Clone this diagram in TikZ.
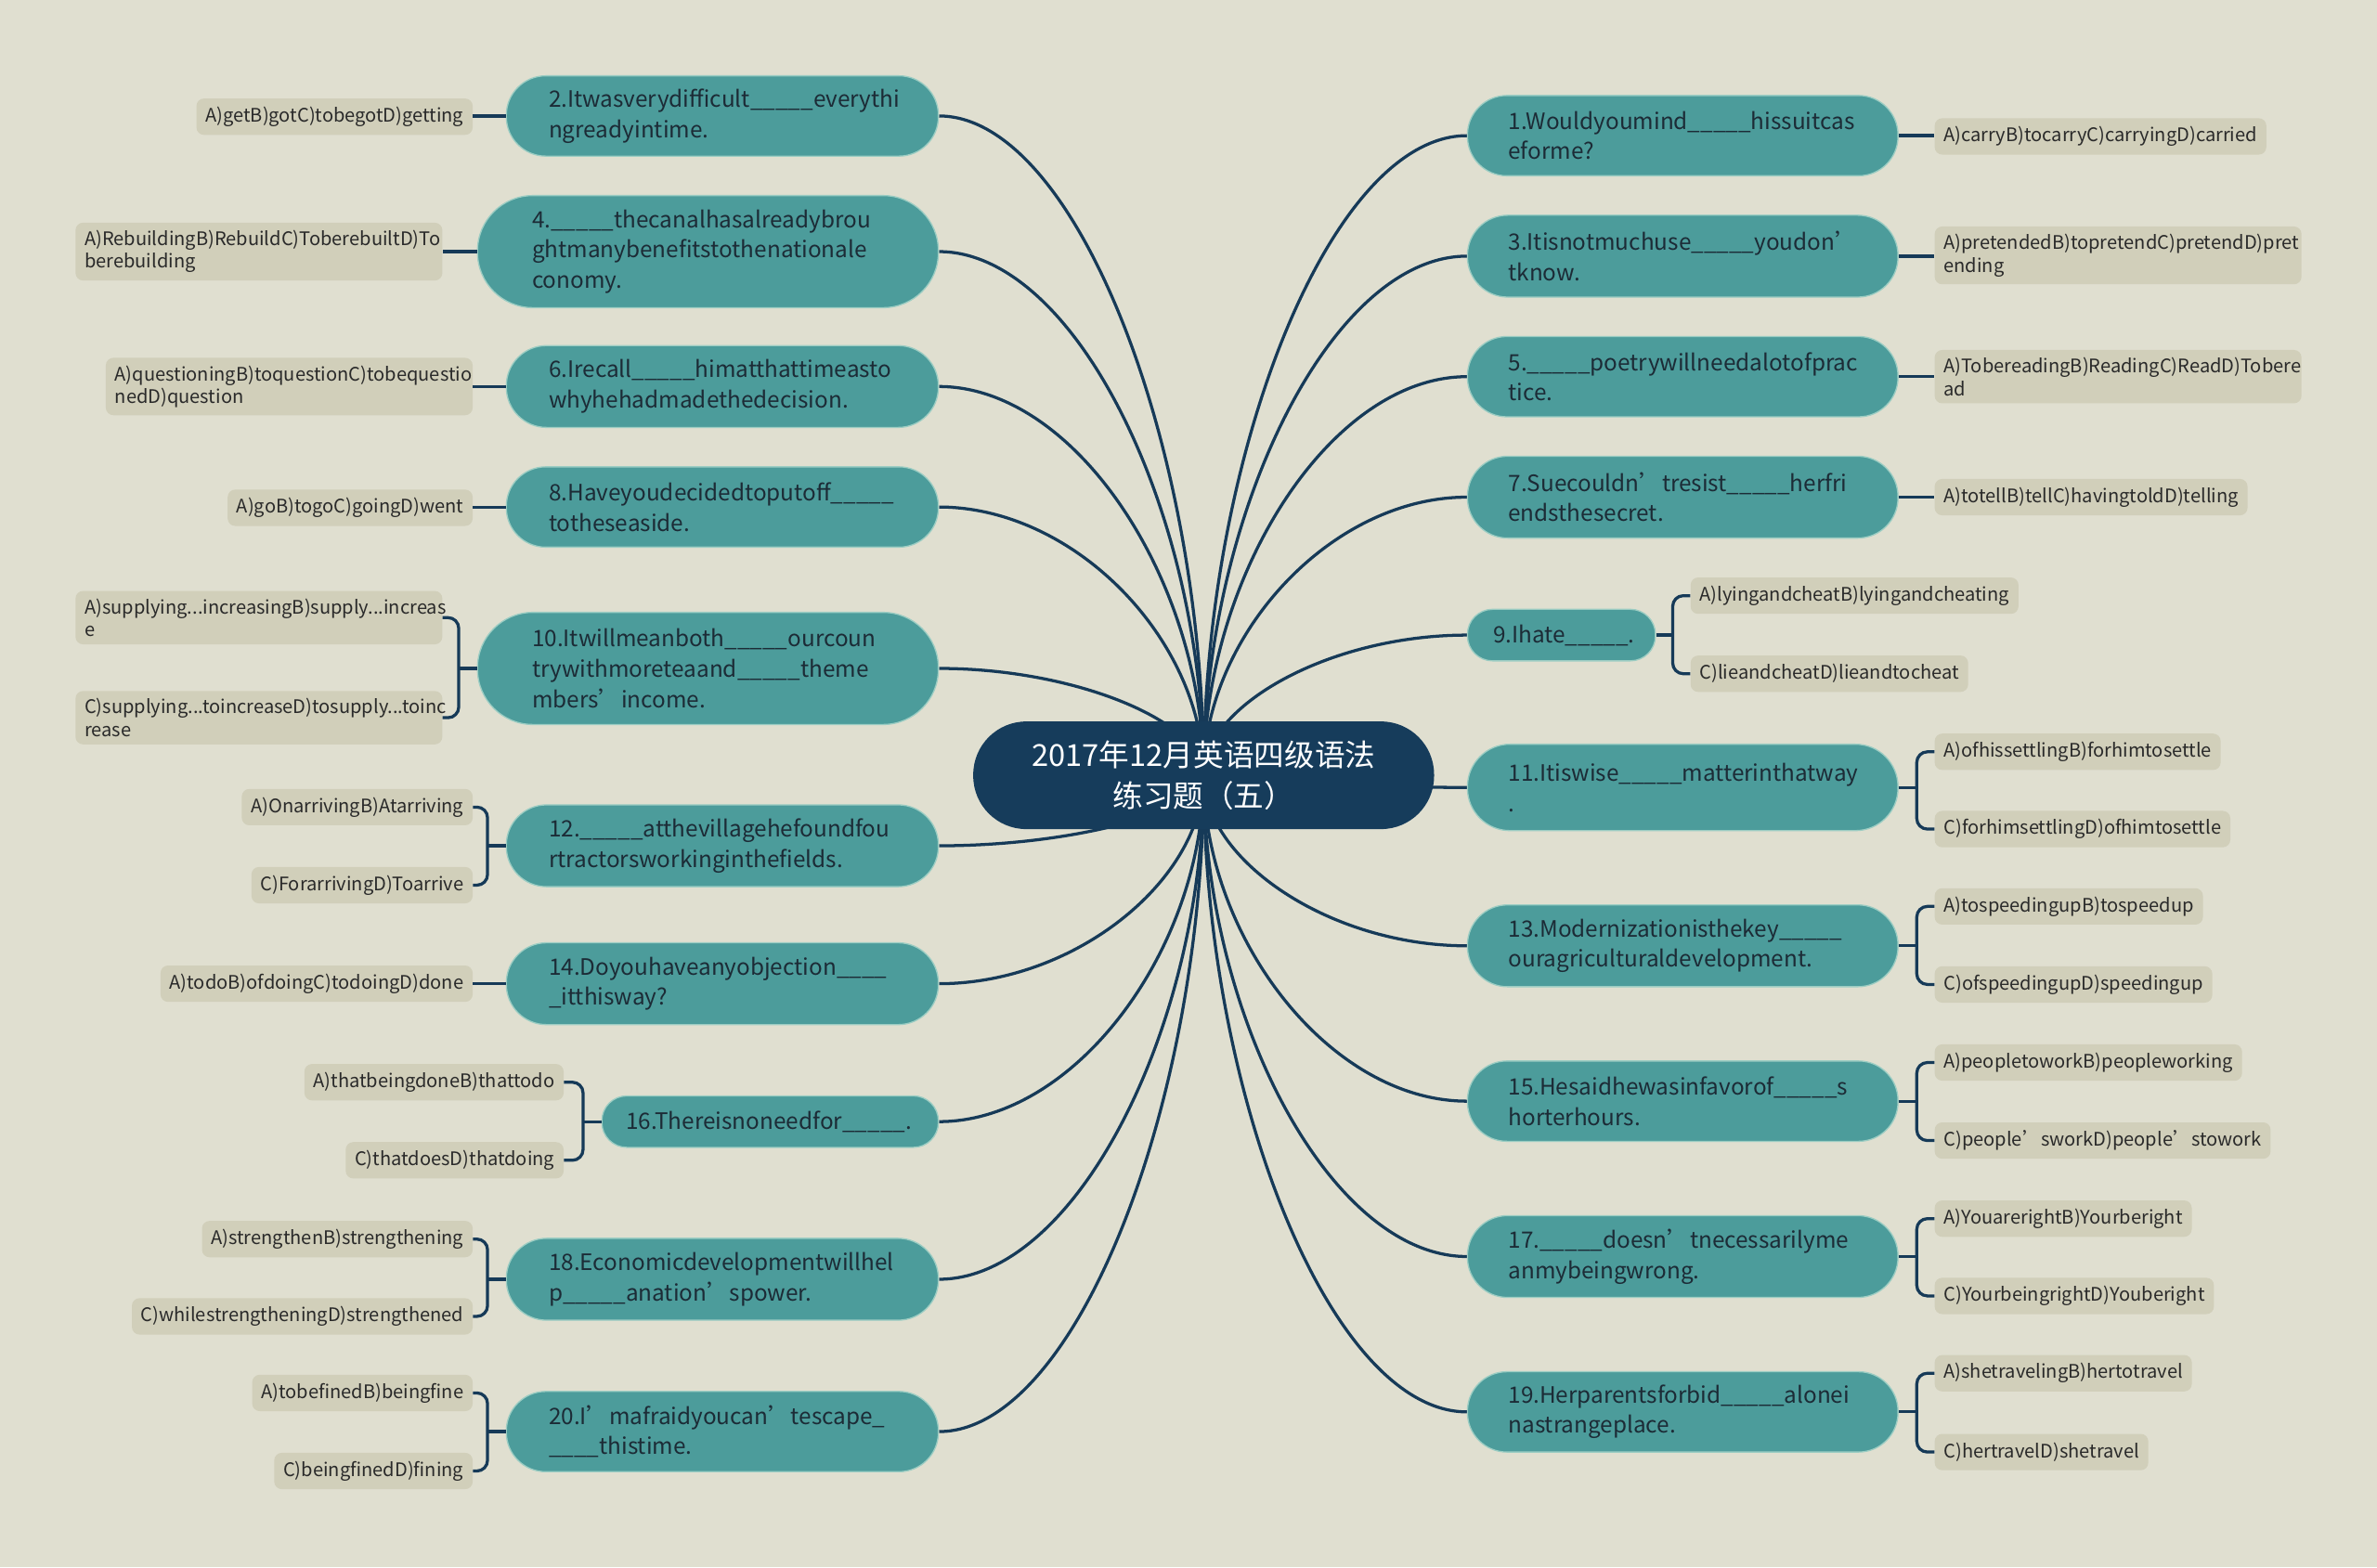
\documentclass[tikz,border=0pt]{standalone}
\usepackage{fontspec}
\setmainfont{Noto Sans CJK SC}
\usetikzlibrary{calc}
\hyphenpenalty=10000 \exhyphenpenalty=10000
\definecolor{bgc}{HTML}{E0DFD0}
\definecolor{tealc}{HTML}{4C9C9B}
\definecolor{tealedge}{HTML}{9CCDC3}
\definecolor{optc}{HTML}{D1CFBA}
\definecolor{hubc}{HTML}{163C5B}
\definecolor{linkc}{HTML}{163A58}
\definecolor{qtextc}{HTML}{1C2B36}
\definecolor{otextc}{HTML}{2A2A2A}
\pgfdeclarelayer{bglayer}
\pgfsetlayers{bglayer,main}
\newcommand\QN[7]{%
 \pgfmathsetmacro\qcx{(#2+#4)/2}%
 \pgfmathsetmacro\qcy{(#3+#5)/2}%
 \pgfmathsetmacro\qw{#4-#2-2*#6}%
 \pgfmathsetmacro\qh{#5-#3}%
 \pgfmathsetmacro\qr{(#5-#3)/2-0.5}%
 \node[qbox, text width=\qw pt, minimum height=\qh pt, inner xsep=#6pt, rounded corners=\qr pt] (#1) at (\qcx,\qcy) {#7};}
\newcommand\OL[4][]{\node[obox,anchor=east,#1] (#2) at (#3) {#4};}
\newcommand\OR[4][]{\node[obox,anchor=west,#1] (#2) at (#3) {#4};}
\begin{document}
\begin{tikzpicture}[x=1pt,y=-1pt,
 link/.style={draw=linkc, line width=2pt},
 qbox/.style={fill=tealc, draw=tealedge, line width=0.8pt, inner ysep=0pt, align=left, font=\fontsize{14.9}{20}\selectfont, text=qtextc},
 obox/.style={fill=optc, rounded corners=5pt, inner xsep=6pt, inner ysep=5pt, minimum height=24pt, align=left, font=\fontsize{12.3}{15}\selectfont, text=otextc},
 twoline/.style={text width=230pt},
 hubbox/.style={fill=hubc, rounded corners=35pt, minimum width=304pt, minimum height=71pt, align=center, text=white, font=\fontsize{20}{27}\selectfont}]
\begin{pgfonlayer}{bglayer}
\fill[bgc] (0,0) rectangle (1568,1034);
\end{pgfonlayer}
% hub
\node[hubbox] (hub) at (794,511.5) {2017年12月英语四级语法\\练习题（五）};
% left questions
\QN{q2}{334}{50}{619}{103}{28}{2.Itwasverydifficult\_\_\_\_\_everythi\\ngreadyintime.}
\QN{q4}{315}{129}{619}{203}{36}{4.\_\_\_\_\_thecanalhasalreadybrou\\ghtmanybenefitstothenationale\\conomy.}
\QN{q6}{334}{228}{619}{282}{28}{6.Irecall\_\_\_\_\_himatthattimeasto\\whyhehadmadethedecision.}
\QN{q8}{334}{308}{619}{361}{28}{8.Haveyoudecidedtoputoff\_\_\_\_\_\\totheseaside.}
\QN{q10}{315}{404}{619}{478}{36}{10.Itwillmeanboth\_\_\_\_\_ourcoun\\trywithmoreteaand\_\_\_\_\_theme\\mbers’income.}
\QN{q12}{334}{531}{619}{585}{28}{12.\_\_\_\_\_atthevillagehefoundfou\\rtractorsworkinginthefields.}
\QN{q14}{334}{622}{619}{676}{28}{14.Doyouhaveanyobjection\_\_\_\_\\\_itthisway?}
\QN{q16}{397}{723}{619}{757}{16}{16.Thereisnoneedfor\_\_\_\_\_.}
\QN{q18}{334}{817}{619}{871}{28}{18.Economicdevelopmentwillhel\\p\_\_\_\_\_anation’spower.}
\QN{q20}{334}{918}{619}{971}{28}{20.I’mafraidyoucan’tescape\_\\\_\_\_\_thistime.}
% right questions
\QN{q1}{968}{63}{1252}{116}{27}{1.Wouldyoumind\_\_\_\_\_hissuitcas\\eforme?}
\QN{q3}{968}{142}{1252}{196}{27}{3.Itisnotmuchuse\_\_\_\_\_youdon’\\tknow.}
\QN{q5}{968}{222}{1252}{275}{27}{5.\_\_\_\_\_poetrywillneedalotofprac\\tice.}
\QN{q7}{968}{301}{1252}{355}{27}{7.Suecouldn’tresist\_\_\_\_\_herfri\\endsthesecret.}
\QN{q9}{968}{402}{1092}{436}{17}{9.Ihate\_\_\_\_\_.}
\QN{q11}{968}{491}{1252}{548}{27}{11.Itiswise\_\_\_\_\_matterinthatway\\.}
\QN{q13}{968}{597}{1252}{651}{27}{13.Modernizationisthekey\_\_\_\_\_\\ouragriculturaldevelopment.}
\QN{q15}{968}{700}{1252}{753}{27}{15.Hesaidhewasinfavorof\_\_\_\_\_s\\horterhours.}
\QN{q17}{968}{802}{1252}{856}{27}{17.\_\_\_\_\_doesn’tnecessarilyme\\anmybeingwrong.}
\QN{q19}{968}{905}{1252}{958}{27}{19.Herparentsforbid\_\_\_\_\_alonei\\nastrangeplace.}
% left options
\OL{o2}{312,77}{A)getB)gotC)tobegotD)getting}
\OL[twoline]{o4}{292,166}{A)RebuildingB)RebuildC)ToberebuiltD)To\\berebuilding}
\OL[twoline]{o6}{312,255}{A)questioningB)toquestionC)tobequestio\\nedD)question}
\OL{o8}{312,335}{A)goB)togoC)goingD)went}
\OL[twoline]{o10a}{292,407.5}{A)supplying...increasingB)supply...increas\\e}
\OL[twoline]{o10b}{292,473.5}{C)supplying...toincreaseD)tosupply...toinc\\rease}
\OL{o12a}{312,532.5}{A)OnarrivingB)Atarriving}
\OL{o12b}{312,584}{C)ForarrivingD)Toarrive}
\OL{o14}{312,649}{A)todoB)ofdoingC)todoingD)done}
\OL{o16a}{372,714}{A)thatbeingdoneB)thattodo}
\OL{o16b}{372,765.5}{C)thatdoesD)thatdoing}
\OL{o18a}{312,817.5}{A)strengthenB)strengthening}
\OL{o18b}{312,868.5}{C)whilestrengtheningD)strengthened}
\OL{o20a}{312,919}{A)tobefinedB)beingfine}
\OL{o20b}{312,970.5}{C)beingfinedD)fining}
% right options
\OR{o1}{1276,90}{A)carryB)tocarryC)carryingD)carried}
\OR[twoline]{o3}{1276,168.5}{A)pretendedB)topretendC)pretendD)pret\\ending}
\OR[twoline]{o5}{1276,248.5}{A)TobereadingB)ReadingC)ReadD)Tobere\\ad}
\OR{o7}{1276,328}{A)totellB)tellC)havingtoldD)telling}
\OR{o9a}{1115,393}{A)lyingandcheatB)lyingandcheating}
\OR{o9b}{1115,444.5}{C)lieandcheatD)lieandtocheat}
\OR{o11a}{1276,496}{A)ofhissettlingB)forhimtosettle}
\OR{o11b}{1276,547}{C)forhimsettlingD)ofhimtosettle}
\OR{o13a}{1276,598}{A)tospeedingupB)tospeedup}
\OR{o13b}{1276,649.5}{C)ofspeedingupD)speedingup}
\OR{o15a}{1276,701}{A)peopletoworkB)peopleworking}
\OR{o15b}{1276,752.5}{C)people’sworkD)people’stowork}
\OR{o17a}{1276,804}{A)YouarerightB)Yourberight}
\OR{o17b}{1276,855}{C)YourbeingrightD)Youberight}
\OR{o19a}{1276,906}{A)shetravelingB)hertotravel}
\OR{o19b}{1276,958}{C)hertravelD)shetravel}
% junctions
\coordinate (j10) at ($(q10.west)+(-12,0)$);
\coordinate (j12) at ($(q12.west)+(-12,0)$);
\coordinate (j16) at ($(q16.west)+(-12,0)$);
\coordinate (j18) at ($(q18.west)+(-12,0)$);
\coordinate (j20) at ($(q20.west)+(-12,0)$);
\coordinate (j9) at ($(q9.east)+(11,0)$);
\coordinate (j11) at ($(q11.east)+(12,0)$);
\coordinate (j13) at ($(q13.east)+(12,0)$);
\coordinate (j15) at ($(q15.east)+(12,0)$);
\coordinate (j17) at ($(q17.east)+(12,0)$);
\coordinate (j19) at ($(q19.east)+(12,0)$);
\begin{pgfonlayer}{bglayer}
% hub curves left
\draw[link] (q2.east) .. controls +(90,0) and +(0,-217.5) .. (hub.center);
\draw[link] (q4.east) .. controls +(90,0) and +(0,-172.75) .. (hub.center);
\draw[link] (q6.east) .. controls +(90,0) and +(0,-128.25) .. (hub.center);
\draw[link] (q8.east) .. controls +(90,0) and +(0,-88.5) .. (hub.center);
\draw[link] (q10.east) .. controls +(90,0) and +(0,-35.25) .. (hub.center);
\draw[link] (q12.east) .. controls +(90,0) and +(0,23.25) .. (hub.center);
\draw[link] (q14.east) .. controls +(90,0) and +(0,68.75) .. (hub.center);
\draw[link] (q16.east) .. controls +(90,0) and +(0,114.25) .. (hub.center);
\draw[link] (q18.east) .. controls +(90,0) and +(0,166.25) .. (hub.center);
\draw[link] (q20.east) .. controls +(90,0) and +(0,216.5) .. (hub.center);
% hub curves right
\draw[link] (q1.west) .. controls +(-90,0) and +(0,-211) .. (hub.center);
\draw[link] (q3.west) .. controls +(-90,0) and +(0,-171.25) .. (hub.center);
\draw[link] (q5.west) .. controls +(-90,0) and +(0,-131.5) .. (hub.center);
\draw[link] (q7.west) .. controls +(-90,0) and +(0,-91.75) .. (hub.center);
\draw[link] (q9.west) .. controls +(-90,0) and +(0,-46.25) .. (hub.center);
\draw[link] (q11.west) .. controls +(-90,0) and +(0,4) .. (hub.center);
\draw[link] (q13.west) .. controls +(-90,0) and +(0,56.25) .. (hub.center);
\draw[link] (q15.west) .. controls +(-90,0) and +(0,107.5) .. (hub.center);
\draw[link] (q17.west) .. controls +(-90,0) and +(0,158.75) .. (hub.center);
\draw[link] (q19.west) .. controls +(-90,0) and +(0,210) .. (hub.center);
\end{pgfonlayer}
% single option links
\draw[link] (q2.west) -- (q2.west -| o2.east);
\draw[link] (q4.west) -- (q4.west -| o4.east);
\draw[link] (q6.west) -- (q6.west -| o6.east);
\draw[link] (q8.west) -- (q8.west -| o8.east);
\draw[link] (q14.west) -- (q14.west -| o14.east);
\draw[link] (q1.east) -- (q1.east -| o1.west);
\draw[link] (q3.east) -- (q3.east -| o3.west);
\draw[link] (q5.east) -- (q5.east -| o5.west);
\draw[link] (q7.east) -- (q7.east -| o7.west);
% brackets left
\foreach \k in {10,12,16,18,20}{
 \draw[link] (q\k.west) -- (j\k);
 \draw[link, rounded corners=7pt] (o\k a.east) -| (j\k) |- (o\k b.east);
}
% brackets right
\foreach \k in {9,11,13,15,17,19}{
 \draw[link] (q\k.east) -- (j\k);
 \draw[link, rounded corners=7pt] (o\k a.west) -| (j\k) |- (o\k b.west);
}
\end{tikzpicture}
\end{document}
